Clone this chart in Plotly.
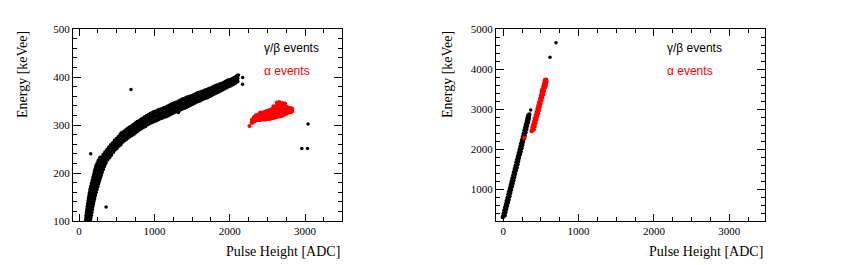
import plotly.graph_objects as go

# ---------------- data ----------------
# Left panel, gamma/beta band, steep lower part: per energy row, left / middle / right pulse height
lg_steep_y  = [100,106,112,118,124,130,136,142,148,154,160,166,172,178,184,190,196,202,208,214,220,226,232]
lg_steep_xl = [ 92, 97,101,106,111,115,121,127,132,139,146,154,162,171,181,190,199,209,219,229,245,262,283]
lg_steep_xm = [118,124,129,135,141,146,153,160,167,175,184,193,203,214,225,235,246,258,269,281,300,296,318]
lg_steep_xr = [145,151,157,163,170,177,185,193,202,211,221,232,243,254,266,278,290,302,315,329,347,326,350]

# Left panel, gamma/beta band, upper part: per pulse height, lower / middle / upper energy
lg_x = [300,325,350,375,400,425,450,
        475,500,525,550,575,600,625,650,675,700,
        725,750,775,800,825,850,875,900,925,950,
        975,1000,1025,1050,1075,1100,1125,1150,1175,1200,
        1225,1250,1275,1300,1325,1350,1375,1400,1425,1450,
        1475,1500,1525,1550,1575,1600,1625,1650,1675,1700,
        1725,1750,1775,1800,1825,1850,1875,1900,1925,1950,
        1975,2000,2025,2050,2075,2100]
lg_lo = [209,216,222,228,233,238,244,
         249,252,257,260,265,268,271,274,277,279,
         282,285,288,291,293,296,298,301,303,305,
         307,309,310,312,314,315,317,318,320,322,
         324,326,328,329,331,333,335,336,338,340,
         342,344,346,348,350,351,353,355,357,358,
         360,362,364,366,368,370,372,374,376,378,
         380,382,384,386,388,391]
lg_mid = [220,227,232,238,243,248,253,
          258,262,266,270,274,277,280,283,286,288,
          291,294,297,300,302,305,307,310,312,314,
          316,318,319,321,323,324,326,327,329,331,
          333,335,337,338,340,342,344,345,347,349,
          351,352,354,356,358,359,361,362,364,366,
          368,369,371,373,375,377,379,380,382,384,
          386,388,390,392,394,397]
lg_hi = [231,238,243,248,253,258,262,
         267,271,275,279,282,286,289,292,295,297,
         300,303,306,308,311,313,316,318,321,323,
         325,327,328,330,332,333,335,336,338,340,
         342,344,346,347,349,351,353,354,356,358,
         359,360,362,364,366,367,369,370,372,373,
         375,376,378,380,382,383,385,386,388,390,
         392,393,395,397,399,402]

# Left panel, isolated gamma/beta events
lg_out_x = [690, 155, 359, 2170, 2172, 3040, 2957, 3032, 560, 1320, 880, 2115]
lg_out_y = [374, 240, 129,  385,  399,  302,  251,  251, 284,  326, 297,  404]

# Left panel, alpha events: per pulse height, rows from lower to upper energy
la_x  = [2300,2325,2350,2375,2400,2425,2450,2475,2500,2525,2550,2575,2600,2625,2650,2675,2700,2725,2750,2775,2800,2825]
la_lo = [ 305, 308, 310, 311, 311, 312, 312, 312, 313, 313, 314, 315, 316, 317, 318, 319, 320, 322, 324, 326, 327, 328]
la_q1 = [ 307, 310, 313, 314, 314, 315, 316, 316, 317, 318, 318, 320, 321, 322, 323, 325, 326, 327, 328, 329, 329, 330]
la_mid= [ 309, 312, 315, 316, 317, 318, 319, 320, 321, 322, 323, 324, 326, 328, 329, 331, 332, 333, 333, 332, 331, 332]
la_q3 = [ 310, 314, 318, 319, 320, 322, 323, 324, 325, 326, 328, 329, 331, 334, 336, 337, 337, 337, 336, 334, 333, 333]
la_hi = [ 311, 316, 320, 321, 323, 325, 326, 327, 329, 330, 332, 334, 336, 340, 344, 342, 341, 340, 338, 336, 335, 334]
la_out_x = [2262, 2625, 2660, 2700, 2735, 2580, 2404, 2290]
la_out_y = [ 298,  347,  348,  346,  345,  339,  326,  305]

# Right panel, gamma/beta events
right_gamma = [
    (-7,300),(17,340),(4,380),(28,420),(14,460),(38,500),(25,540),(49,580),
    (36,620),(60,660),(46,700),(70,740),(57,780),(81,820),(68,860),(92,900),
    (78,940),(102,980),(89,1020),(113,1060),(100,1100),(124,1140),(110,1180),(134,1220),
    (121,1260),(145,1300),(132,1340),(156,1380),(142,1420),(166,1460),(153,1500),(177,1540),
    (164,1580),(188,1620),(174,1660),(198,1700),(185,1740),(209,1780),(196,1820),(220,1860),
    (206,1900),(230,1940),(217,1980),(241,2020),(228,2060),(252,2100),(238,2140),(262,2180),
    (249,2220),(273,2260),(260,2300),(284,2340),(270,2380),(294,2420),(281,2460),(305,2500),
    (292,2540),(316,2580),(302,2620),(326,2660),(313,2700),(335,2740),(322,2770),(340,2800),
    (330,2830),(345,2860),
]
rg_out = [(364,2975),(620,4292),(700,4658)]

# Right panel, alpha events
right_alpha = [
    (376,2450),(404,2490),(387,2530),(415,2570),(399,2610),(427,2650),(410,2690),(438,2730),
    (421,2770),(449,2810),(432,2850),(460,2890),(444,2930),(472,2970),(455,3010),(483,3050),
    (466,3090),(494,3130),(477,3170),(505,3210),(489,3250),(517,3290),(500,3330),(528,3370),
    (511,3410),(539,3450),(522,3490),(550,3530),(534,3570),(562,3610),(545,3650),(573,3690),
    (552,3720),(568,3730),(400,2560),(470,3030),(520,3380),(560,3560),(515,3470),(541,3600),
    (279,2283),
]

x_ticks = [0, 1000, 2000, 3000]
left_y_ticks = [100, 200, 300, 400, 500]
right_y_ticks = [1000, 2000, 3000, 4000, 5000]
x_title = "Pulse Height [ADC]"
y_title = "Energy [keVee]"
legend_gamma = "γ/β events"
legend_alpha = "α events"

# ---------------- figure ----------------
W, H = 847, 265
BLACK = "#000000"
RED = "#ff0000"
BAND = 4.5
DOT = 3.5

fig = go.Figure()


def add(x, y, col, size, xa, ya):
    fig.add_trace(go.Scatter(
        x=x, y=y, mode="markers", xaxis=xa, yaxis=ya,
        marker=dict(color=col, size=size, line=dict(width=0)),
        showlegend=False, hoverinfo="skip",
    ))


# left gamma band
for xcol in (lg_steep_xl, lg_steep_xm, lg_steep_xr):
    add(xcol, lg_steep_y, BLACK, BAND, "x", "y")
for ycol in (lg_lo, lg_mid, lg_hi):
    add(lg_x, ycol, BLACK, BAND, "x", "y")
add(lg_out_x, lg_out_y, BLACK, DOT, "x", "y")
# left alpha
for ycol in (la_lo, la_q1, la_mid, la_q3, la_hi):
    add(la_x, ycol, RED, BAND, "x", "y")
add(la_out_x, la_out_y, RED, DOT + 0.5, "x", "y")
# right panel
add([p[0] for p in right_gamma], [p[1] for p in right_gamma], BLACK, BAND, "x2", "y2")
add([p[0] for p in rg_out], [p[1] for p in rg_out], BLACK, DOT, "x2", "y2")
add([p[0] for p in right_alpha], [p[1] for p in right_alpha], RED, BAND, "x2", "y2")

serif = "Liberation Serif"
sans = "Liberation Sans"


def axis(**kw):
    d = dict(
        showline=True, linecolor=BLACK, linewidth=1, mirror="ticks",
        ticks="inside", tickwidth=1, tickcolor=BLACK,
        showgrid=False, zeroline=False, automargin=False,
        tickfont=dict(family=serif, size=11, color=BLACK),
    )
    d.update(kw)
    return d


def minor(dt, ln):
    return dict(ticks="inside", dtick=dt, tick0=0, ticklen=ln,
                tickcolor=BLACK, tickwidth=1, showgrid=False)


ydom = [44 / H, 236 / H]
fig.update_layout(
    template="none",
    width=W, height=H,
    margin=dict(l=0, r=0, t=0, b=0, pad=0),
    paper_bgcolor="white", plot_bgcolor="white",
    xaxis=axis(domain=[73 / W, 342 / W], range=[-80, 3490], anchor="y",
               tickvals=x_ticks, ticklen=7, minor=minor(250, 4)),
    yaxis=axis(domain=ydom, range=[100, 500], anchor="x",
               tickvals=left_y_ticks, ticklen=8, minor=minor(20, 4)),
    xaxis2=axis(domain=[496 / W, 765 / W], range=[-97, 3475], anchor="y2",
                tickvals=x_ticks, ticklen=7, minor=minor(250, 4)),
    yaxis2=axis(domain=ydom, range=[200, 5000], anchor="x2",
                tickvals=right_y_ticks, ticklen=8, minor=minor(200, 4)),
)

annots = []
for xr, ylab_x, leg_x in [(342, 22.5, 262), (765, 447.5, 665)]:
    annots.append(dict(text=x_title, xref="paper", yref="paper",
                       x=xr / W, y=(H - 251.5) / H, xanchor="right", yanchor="middle",
                       showarrow=False, font=dict(family=serif, size=14, color=BLACK)))
    annots.append(dict(text=y_title, xref="paper", yref="paper", textangle=-90,
                       x=ylab_x / W, y=(H - 29) / H, xanchor="center", yanchor="top",
                       showarrow=False, font=dict(family=serif, size=14, color=BLACK)))
    annots.append(dict(text=legend_gamma, xref="paper", yref="paper",
                       x=leg_x / W, y=(H - 48.5) / H, xanchor="left", yanchor="middle",
                       showarrow=False, font=dict(family=sans, size=12, color=BLACK)))
    annots.append(dict(text=legend_alpha, xref="paper", yref="paper",
                       x=leg_x / W, y=(H - 71) / H, xanchor="left", yanchor="middle",
                       showarrow=False, font=dict(family=sans, size=12, color=RED)))
fig.update_layout(annotations=annots)

fig.write_html("out.html",
               config={"displayModeBar": False},
               post_script="document.body.style.margin='0';document.body.style.overflow='hidden';")
